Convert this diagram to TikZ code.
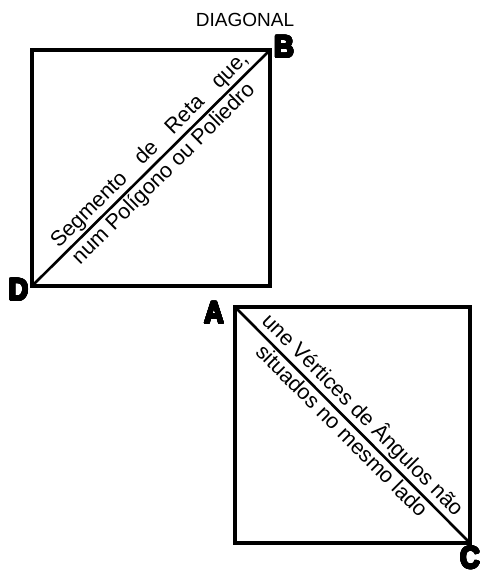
\documentclass[tikz,border=0pt]{standalone}
\usepackage{fontspec}
\usepackage[copies]{contour}
\contourlength{1pt}
\contournumber{24}
\setmainfont{Liberation Sans}
\newfontfamily\heavy[FakeStretch=0.88]{Liberation Sans Bold}
\begin{document}
\begin{tikzpicture}[x=1pt,y=-1pt,
  frame/.style={line width=3.5pt},
  diag/.style={line width=2.6pt},
  vlabel/.style={font=\heavy\fontsize{31}{31}\selectfont, inner sep=0pt},
  dtext/.style={font=\fontsize{21.5}{21.5}\selectfont, sloped, inner sep=0pt},
  title/.style={font=\fontsize{19}{19}\selectfont, inner sep=0pt}]
\useasboundingbox (0,0) rectangle (484,572);
% square 1
\coordinate (D) at (32,286);
\coordinate (B) at (270,50);
\draw[frame] (D) rectangle (B);
\draw[diag] (D) -- (B);
\path (D) -- node[dtext, above=3pt, pos=0.535] {\makebox[268pt][s]{Segmento de Reta que,}}
             node[dtext, below=3pt, pos=0.515] {num Polígono ou Poliedro} (B);
% square 2
\coordinate (A) at (235,307);
\coordinate (C) at (470,543);
\draw[frame] (A) rectangle (C);
\draw[diag] (A) -- (C);
\path (A) -- node[dtext, above=3pt, pos=0.5] {une Vértices de Ângulos não}
             node[dtext, below=3pt, pos=0.49] {situados no mesmo lado} (C);
% labels
\node[title] (title) at (245,20) {DIAGONAL};
\node[vlabel] (lB) at (284,47.5) {\contour{black}{B}};
\node[vlabel] (lD) at (18.5,290) {\contour{black}{D}};
\node[vlabel] (lA) at (214,313.5) {\contour{black}{A}};
\node[vlabel] (lC) at (470,558) {\contour{black}{C}};
\end{tikzpicture}
\end{document}
